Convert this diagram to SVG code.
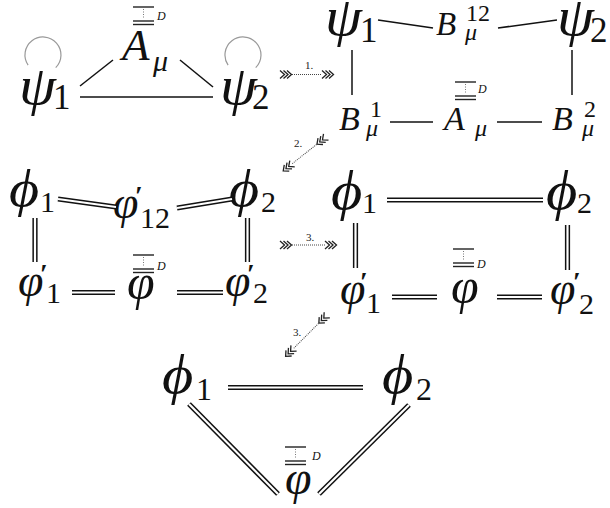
<svg xmlns="http://www.w3.org/2000/svg" xmlns:xlink="http://www.w3.org/1999/xlink" width="610" height="508" viewBox="0 0 610 508" font-family="Liberation Serif">
<style>
.mi{font-family:'Liberation Serif',serif;font-style:italic;fill:#111}
.up{font-family:'Liberation Serif',serif;fill:#111}
.pr{font-family:'Liberation Serif',serif;font-weight:bold;fill:#111}
.ln{stroke:#111;stroke-width:1.5;fill:none}
.do{stroke:#111;stroke-width:5.2;fill:none}
.di{stroke:#fff;stroke-width:2.2;fill:none}
.loop{stroke:#999;stroke-width:1.2;fill:none}
.dot{stroke:#444;stroke-width:1;stroke-dasharray:1 1;fill:none}
.chv{stroke:#222;stroke-width:1.3;fill:none}
.bar{stroke:#222;stroke-width:1.4;fill:none}
.bdot{stroke:#777;stroke-width:1;stroke-dasharray:1 1.5;fill:none}
.lab{font-family:'Liberation Serif',serif;font-size:11px;fill:#222}
</style>
<defs>
<g id="chv" class="chv"><polyline points="0,-4 4.5,0 0,4"/><polyline points="3.5,-4 8,0 3.5,4"/><polyline points="7,-4 11.5,0 7,4"/></g>
<g id="ovb"><line class="bar" x1="0" y1="0" x2="21" y2="0"/><line class="bdot" x1="10.5" y1="2" x2="10.5" y2="12"/><line class="bar" x1="0" y1="14" x2="21" y2="14"/><line class="bar" x1="0" y1="17.5" x2="21" y2="17.5"/></g>
</defs>

<!-- Top-left diagram -->
<g id="tl-psi1"><path class="loop" d="M28.1,65.1 A18,18 0 1 1 55.7,67.7"/><text class="mi" transform="translate(19,104) scale(1.1,1)" font-size="54">ψ</text><text class="up" x="53" y="109" font-size="35">1</text></g>
<g id="tl-A"><use xlink:href="#ovb" x="133" y="7"/><text class="mi" x="157" y="20" font-size="12">D</text><text class="mi" x="122" y="60" font-size="45">A</text><text class="mi" x="153" y="71" font-size="30">μ</text></g>
<g id="tl-psi2"><path class="loop" d="M228.1,65.1 A18,18 0 1 1 255.7,67.7"/><text class="mi" transform="translate(220,104) scale(1.1,1)" font-size="54">ψ</text><text class="up" x="252" y="109" font-size="35">2</text></g>
<g id="tl-edges"><line class="ln" x1="80" y1="86" x2="113" y2="60"/><line class="ln" x1="180" y1="60" x2="213" y2="87"/><line class="ln" x1="80" y1="97" x2="213" y2="97"/></g>

<!-- Top-right diagram -->
<g id="tr-psi1"><text class="mi" transform="translate(325,35) scale(1.1,1)" font-size="54">ψ</text><text class="up" x="360" y="42" font-size="35">1</text></g>
<g id="tr-B12"><text class="mi" x="436" y="35" font-size="33">B</text><text class="up" x="466" y="21" font-size="24">12</text><text class="mi" x="465" y="40" font-size="24">μ</text></g>
<g id="tr-psi2"><text class="mi" transform="translate(557,35) scale(1.1,1)" font-size="54">ψ</text><text class="up" x="590" y="42" font-size="35">2</text></g>
<g id="tr-B1"><text class="mi" x="339" y="130" font-size="34">B</text><text class="up" x="370" y="117" font-size="24">1</text><text class="mi" x="366" y="136" font-size="24">μ</text></g>
<g id="tr-A"><use xlink:href="#ovb" x="455" y="82"/><text class="mi" x="478" y="93" font-size="12">D</text><text class="mi" x="444" y="130" font-size="34">A</text><text class="mi" x="475" y="136" font-size="24">μ</text></g>
<g id="tr-B2"><text class="mi" x="552" y="130" font-size="34">B</text><text class="up" x="584" y="117" font-size="24">2</text><text class="mi" x="582" y="136" font-size="24">μ</text></g>
<g id="tr-edges"><line class="ln" x1="378" y1="20" x2="433" y2="28"/><line class="ln" x1="498" y1="28" x2="557" y2="20"/><line class="ln" x1="352" y1="50" x2="352" y2="95"/><line class="ln" x1="572" y1="50" x2="572" y2="95"/><line class="ln" x1="390" y1="122" x2="433" y2="122"/><line class="ln" x1="497" y1="122" x2="542" y2="122"/></g>

<!-- Middle-left diagram -->
<g id="ml-phi1"><text class="mi" transform="translate(9,206) scale(1.12,1)" font-size="52">ϕ</text><text class="up" x="40" y="212" font-size="30">1</text></g>
<g id="ml-vphi12"><text class="mi" x="113" y="218" font-size="46">φ</text><text class="pr" x="135" y="205" font-size="28">′</text><text class="up" x="140" y="228" font-size="30">12</text></g>
<g id="ml-phi2"><text class="mi" transform="translate(229,206) scale(1.12,1)" font-size="52">ϕ</text><text class="up" x="261" y="212" font-size="30">2</text></g>
<g id="ml-vphi1"><text class="mi" x="18" y="296" font-size="46">φ</text><text class="pr" x="40" y="283" font-size="28">′</text><text class="up" x="46" y="303" font-size="30">1</text></g>
<g id="ml-vphibar"><use xlink:href="#ovb" x="133" y="255"/><text class="mi" x="157" y="270" font-size="12">D</text><text class="mi" x="127" y="299" font-size="50">φ</text></g>
<g id="ml-vphi2"><text class="mi" x="225" y="296" font-size="46">φ</text><text class="pr" x="247" y="283" font-size="28">′</text><text class="up" x="253" y="303" font-size="30">2</text></g>
<g id="ml-edges">
<g class="do"><line x1="58" y1="199" x2="116" y2="207"/><line x1="177" y1="208" x2="232" y2="199"/><line x1="35" y1="218" x2="35" y2="262"/><line x1="247.5" y1="218" x2="247.5" y2="262"/><line x1="72" y1="292.5" x2="115" y2="292.5"/><line x1="177" y1="292.5" x2="223" y2="292.5"/></g>
<g class="di"><line x1="58" y1="199" x2="116" y2="207"/><line x1="177" y1="208" x2="232" y2="199"/><line x1="35" y1="218" x2="35" y2="262"/><line x1="247.5" y1="218" x2="247.5" y2="262"/><line x1="72" y1="292.5" x2="115" y2="292.5"/><line x1="177" y1="292.5" x2="223" y2="292.5"/></g>
</g>

<!-- Middle-right diagram -->
<g id="mr-phi1"><text class="mi" transform="translate(331,209) scale(1.12,1)" font-size="54">ϕ</text><text class="up" x="362" y="213" font-size="30">1</text></g>
<g id="mr-phi2"><text class="mi" transform="translate(546,209) scale(1.12,1)" font-size="54">ϕ</text><text class="up" x="577" y="213" font-size="30">2</text></g>
<g id="mr-vphi1"><text class="mi" x="340" y="304" font-size="46">φ</text><text class="pr" x="360" y="291" font-size="28">′</text><text class="up" x="366" y="313" font-size="30">1</text></g>
<g id="mr-vphibar"><use xlink:href="#ovb" x="453" y="249"/><text class="mi" x="477" y="268" font-size="12">D</text><text class="mi" x="451" y="303" font-size="50">φ</text></g>
<g id="mr-vphi2"><text class="mi" x="550" y="304" font-size="46">φ</text><text class="pr" x="573" y="291" font-size="28">′</text><text class="up" x="579" y="314" font-size="30">2</text></g>
<g id="mr-edges">
<g class="do"><line x1="387" y1="200" x2="543" y2="200"/><line x1="355.5" y1="223" x2="355.5" y2="268"/><line x1="567.5" y1="225" x2="567.5" y2="270"/><line x1="392" y1="297" x2="437" y2="297"/><line x1="497" y1="297" x2="542" y2="297"/></g>
<g class="di"><line x1="387" y1="200" x2="543" y2="200"/><line x1="355.5" y1="223" x2="355.5" y2="268"/><line x1="567.5" y1="225" x2="567.5" y2="270"/><line x1="392" y1="297" x2="437" y2="297"/><line x1="497" y1="297" x2="542" y2="297"/></g>
</g>

<!-- Bottom diagram -->
<g id="b-phi1"><text class="mi" transform="translate(162,393) scale(1.12,1)" font-size="54">ϕ</text><text class="up" x="196" y="400" font-size="32">1</text></g>
<g id="b-phi2"><text class="mi" transform="translate(382,393) scale(1.12,1)" font-size="54">ϕ</text><text class="up" x="416" y="400" font-size="32">2</text></g>
<g id="b-vphibar"><use xlink:href="#ovb" x="285" y="447"/><text class="mi" x="312" y="460" font-size="12">D</text><text class="mi" x="285" y="494" font-size="48">φ</text></g>
<g id="b-edges">
<g class="do"><line x1="228" y1="387.5" x2="363" y2="387.5"/><line x1="189" y1="404" x2="278" y2="494"/><line x1="409" y1="405" x2="319" y2="494"/></g>
<g class="di"><line x1="228" y1="387.5" x2="363" y2="387.5"/><line x1="189" y1="404" x2="278" y2="494"/><line x1="409" y1="405" x2="319" y2="494"/></g>
</g>

<!-- Transformation arrows -->
<g id="arrows">
<g id="arr1"><use xlink:href="#chv" x="280" y="74.5"/><line class="dot" x1="292" y1="74.5" x2="322" y2="74.5"/><use xlink:href="#chv" x="322" y="74.5"/><text class="lab" x="305" y="69">1.</text></g>
<g id="arr2"><g transform="translate(326,137) rotate(141.7)"><use xlink:href="#chv" x="0" y="0"/><line class="dot" x1="12" y1="0" x2="43" y2="0"/><use xlink:href="#chv" x="43" y="0"/></g><text class="lab" x="294" y="147">2.</text></g>
<g id="arr3"><use xlink:href="#chv" x="280" y="245"/><line class="dot" x1="292" y1="245" x2="325" y2="245"/><use xlink:href="#chv" x="325" y="245"/><text class="lab" x="306" y="241">3.</text></g>
<g id="arr4"><g transform="translate(327,315) rotate(135)"><use xlink:href="#chv" x="0" y="0"/><line class="dot" x1="12" y1="0" x2="47" y2="0"/><use xlink:href="#chv" x="47" y="0"/></g><text class="lab" x="293" y="336">3.</text></g>
</g>
</svg>
